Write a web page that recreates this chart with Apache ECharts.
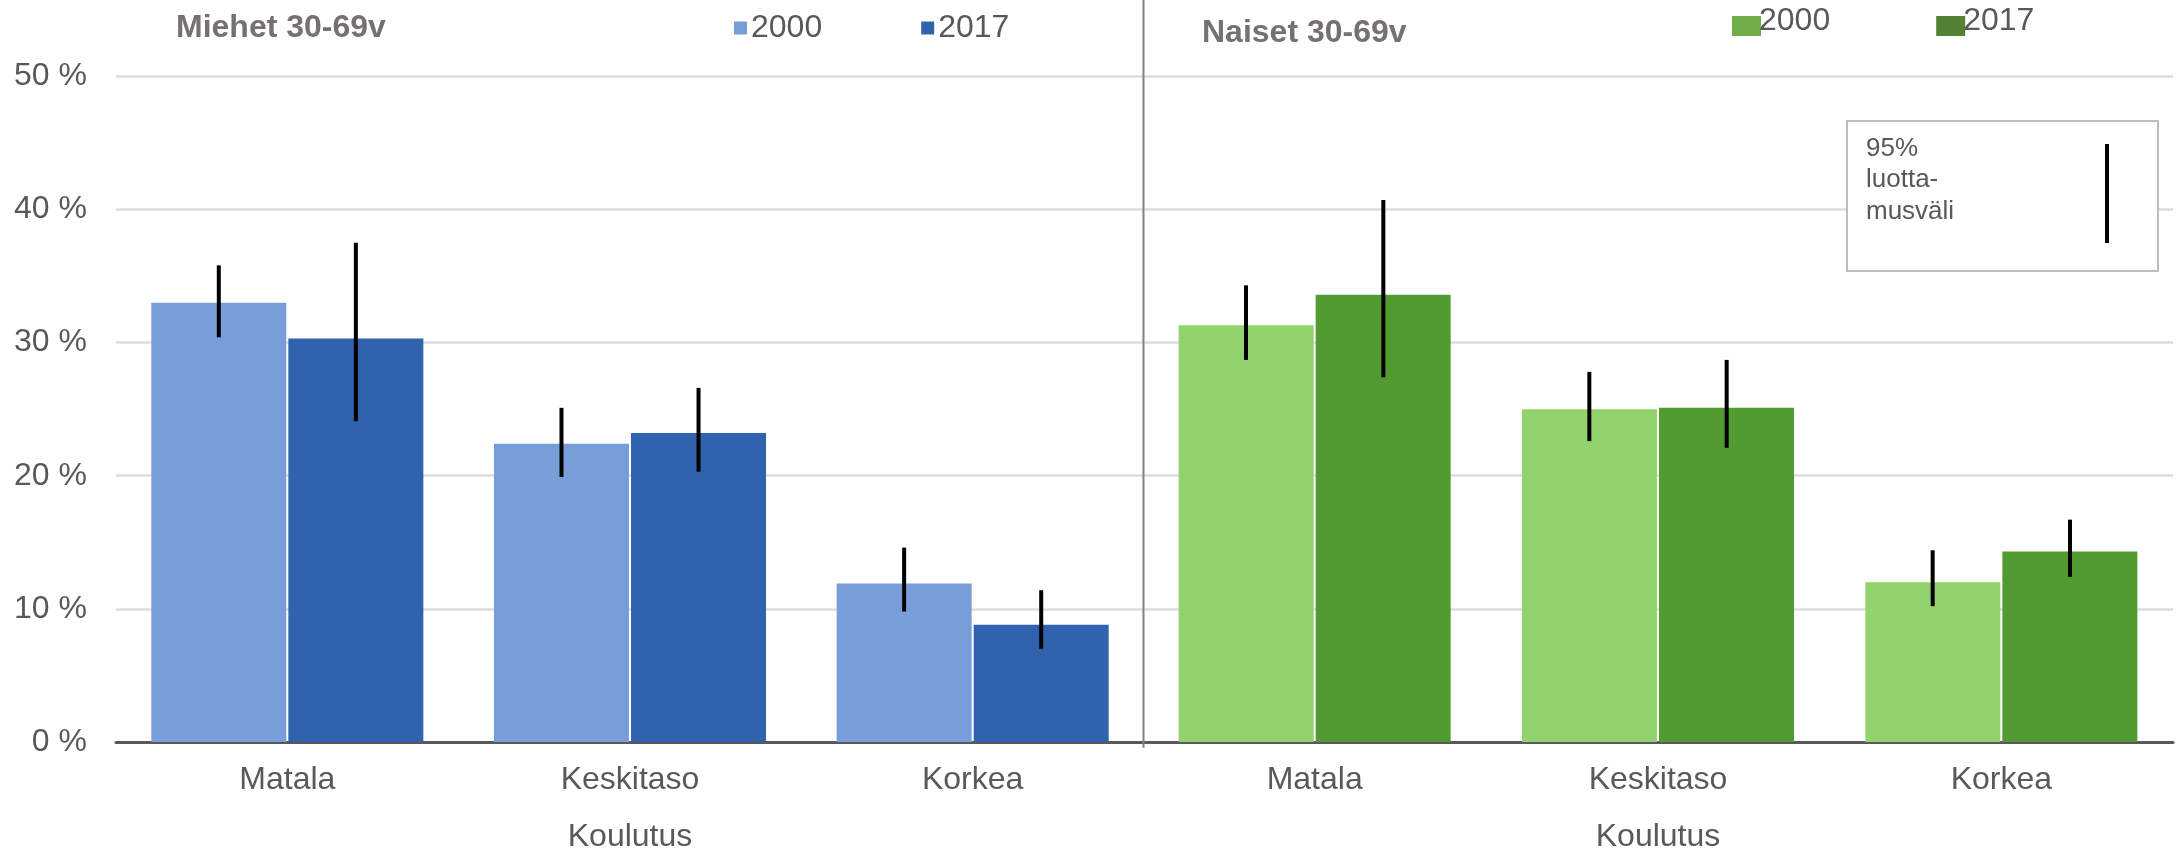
<!DOCTYPE html>
<html>
<head>
<meta charset="utf-8">
<script src="https://cdn.jsdelivr.net/npm/echarts@6/dist/echarts.min.js"></script>
<style>html,body{margin:0;padding:0;background:#fff}#c{width:2177px;height:858px}</style>
</head>
<body>
<div id="c"></div>
<script>
// ---- data ----
const categories = ['Matala', 'Keskitaso', 'Korkea'];
const yTicks = [0, 10, 20, 30, 40, 50];
const men2000 = [33.0, 22.4, 11.9];
const men2017 = [30.3, 23.2, 8.8];
const women2000 = [31.3, 25.0, 12.0];
const women2017 = [33.6, 25.1, 14.3];
const men2000Low = [30.4, 19.9, 9.8];
const men2000High = [35.8, 25.1, 14.6];
const men2017Low = [24.1, 20.3, 7.0];
const men2017High = [37.5, 26.6, 11.4];
const women2000Low = [28.7, 22.6, 10.2];
const women2000High = [34.3, 27.8, 14.4];
const women2017Low = [27.4, 22.1, 12.4];
const women2017High = [40.7, 28.7, 16.7];

const FONT = '"Liberation Sans", Arial, sans-serif';
const TXT = '#595959';
const FS = 32;
const G = { top: 76.3, height: 671.4, left0: 116, width0: 1028, left1: 1143, width1: 1030 };

function errData(lo, hi) { return lo.map((v, i) => [i, v, hi[i]]); }
function errSeries(lo, hi, idx, sign) {
  return {
    type: 'custom', xAxisIndex: idx, yAxisIndex: idx, z: 5,
    data: errData(lo, hi),
    encode: { x: 0, y: [1, 2] },
    renderItem: function (params, api) {
      const c = api.value(0);
      const a = api.coord([c, api.value(1)]);
      const b = api.coord([c, api.value(2)]);
      const off = api.size([1, 0])[0] * 0.2 * sign;
      return { type: 'line', shape: { x1: a[0] + off, y1: a[1], x2: b[0] + off, y2: b[1] },
        style: { stroke: '#000', lineWidth: 4, lineCap: 'butt' } };
    }
  };
}
function xAxis(idx) {
  return {
    type: 'category', gridIndex: idx, data: categories,
    axisTick: { show: false },
    axisLine: { show: true, lineStyle: { color: '#595959', width: 3 } },
    axisLabel: { color: TXT, fontSize: FS, fontFamily: FONT, margin: 22 },
    name: 'Koulutus', nameLocation: 'middle', nameGap: 79,
    nameTextStyle: { color: TXT, fontSize: FS, fontFamily: FONT }
  };
}
function yAxis(idx, labels) {
  return {
    type: 'value', gridIndex: idx, min: yTicks[0], max: yTicks[yTicks.length - 1], interval: 10,
    axisLine: { show: false }, axisTick: { show: false },
    axisLabel: { show: labels, color: TXT, fontSize: FS, fontFamily: FONT, margin: 29,
      formatter: v => v + ' %' },
    splitLine: { lineStyle: { color: '#dcdde0', width: 2.5 } }
  };
}
function bar(name, data, idx, color) {
  return { name: name, type: 'bar', xAxisIndex: idx, yAxisIndex: idx, data: data,
    barWidth: 135, barGap: '1.5%', itemStyle: { color: color }, z: 2 };
}

const chart = echarts.init(document.getElementById('c'));
chart.setOption({
  animation: false,
  backgroundColor: '#fff',
  title: [
    { text: 'Miehet 30-69v', left: 176, top: 12, padding: 0,
      textStyle: { fontSize: FS, fontWeight: 'bold', color: '#767171', fontFamily: FONT, lineHeight: 32 } },
    { text: 'Naiset 30-69v', left: 1202, top: 17, padding: 0,
      textStyle: { fontSize: FS, fontWeight: 'bold', color: '#767171', fontFamily: FONT, lineHeight: 32 } }
  ],
  legend: [
    { left: 734, top: 12, padding: 0, icon: 'rect', itemWidth: 13, itemHeight: 13, itemGap: 99,
      data: ['M2000', 'M2017'], formatter: n => n.slice(1), selectedMode: false,
      textStyle: { color: TXT, fontSize: FS, fontFamily: FONT, lineHeight: 32, padding: [0, 0, 0, -1] } },
    { left: 1732, top: 5, padding: 0, icon: 'rect', itemWidth: 29, itemHeight: 20, itemGap: 106,
      data: [{ name: 'N2000', itemStyle: { color: '#70ad47' } }, { name: 'N2017', itemStyle: { color: '#548235' } }],
      formatter: n => '{t|' + n.slice(1) + '}', selectedMode: false,
      textStyle: { color: TXT, fontSize: FS, fontFamily: FONT, lineHeight: 32,
        rich: { t: { color: TXT, fontSize: FS, fontFamily: FONT, lineHeight: 32, padding: [0, 0, 10, -7] } } } }
  ],
  grid: [
    { left: G.left0, width: G.width0, top: G.top, height: G.height },
    { left: G.left1, width: G.width1, top: G.top, height: G.height }
  ],
  xAxis: [xAxis(0), xAxis(1)],
  yAxis: [yAxis(0, true), yAxis(1, false)],
  series: [
    bar('M2000', men2000, 0, '#779ed9'),
    bar('M2017', men2017, 0, '#3062ae'),
    bar('N2000', women2000, 1, '#92d36e'),
    bar('N2017', women2017, 1, '#529b30'),
    errSeries(men2000Low, men2000High, 0, -1),
    errSeries(men2017Low, men2017High, 0, 1),
    errSeries(women2000Low, women2000High, 1, -1),
    errSeries(women2017Low, women2017High, 1, 1)
  ],
  graphic: [
    { type: 'line', z: 10, shape: { x1: 1143.5, y1: 0, x2: 1143.5, y2: G.top + G.height },
      style: { stroke: '#808080', lineWidth: 2 } },
    { type: 'rect', z: 10, shape: { x: 1847, y: 121, width: 311, height: 150 },
      style: { fill: '#fff', stroke: '#a6a6a6', lineWidth: 1.5 } },
    { type: 'text', z: 11, left: 1866, top: 133,
      style: { text: '95%\nluotta-\nmusväli', fill: TXT, fontSize: 26, lineHeight: 31.5, fontFamily: FONT } },
    { type: 'line', z: 11, shape: { x1: 2107, y1: 144, x2: 2107, y2: 243 },
      style: { stroke: '#000', lineWidth: 4 } }
  ]
});
</script>
</body>
</html>
